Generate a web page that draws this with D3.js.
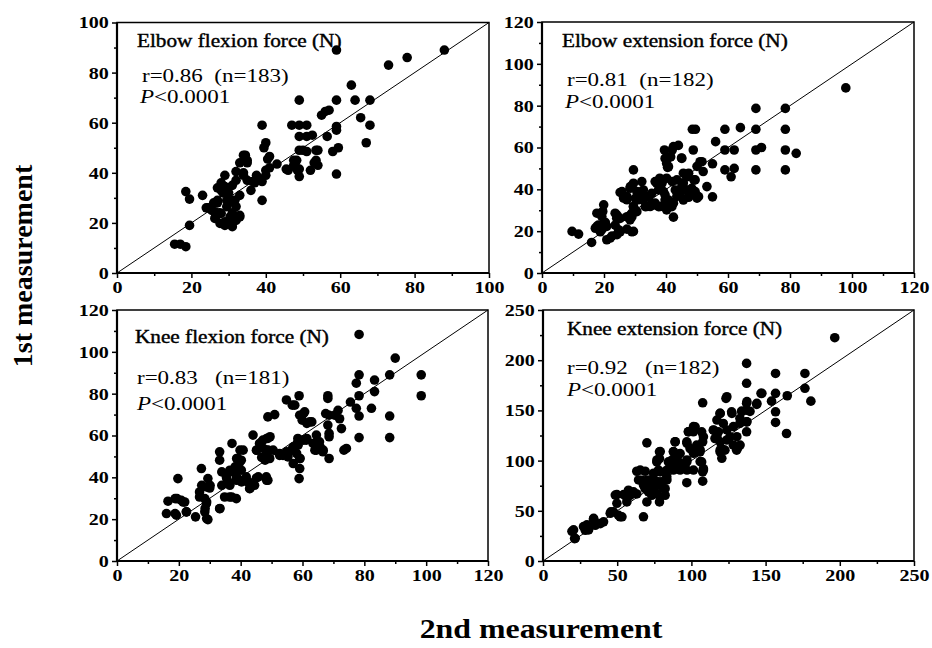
<!DOCTYPE html>
<html>
<head>
<meta charset="utf-8">
<script src="https://cdn.jsdelivr.net/npm/d3@7"></script>
<style>
body { margin: 0; background: #fff; }
text { font-family: "Liberation Serif", "Times New Roman", serif; fill: #000; }
.tick text { font-weight: bold; font-size: 17px; }
</style>
</head>
<body>
<svg id="chart" width="932" height="648"></svg>
<script>
// points are [2nd measurement, 1st measurement]
var elbowFlexion = [
  [88,89],[59,89],[73,83],[78,86],[63,75],[49,69],[59,69],[64,69],[68,69],[55,63],[56,64.5],[57,65],
  [65.5,62],[68,59],[67,52],[59,58.5],[59,57],[47,59],[49,59],[51,59],[49,54.5],[51,54.5],[52.5,55],
  [56.5,54.5],[39,59],[40,52],[39.5,50],[49,49],[51,48.5],[54,49],[59.5,50],[58,48.5],[41,46.5],
  [43,43.5],[47.5,45],[48,42.5],[46,41],[49,41.5],[49,38.5],[52,41],[53.5,45],[54,43],[59,39.5],
  [39,29],[34,47],[33,44],[35,44],[34,40],[32,37],[35,37],[29,39],[28,36],[37.5,39],[39,36.5],[40,39],
  [37,36],[36,33],[41,42],[23,31],[18.5,32.5],[19.5,29.5],[19.5,19],[15.5,11.5],[17,11.5],[18.5,10.5],
  [24,26],[25.5,25],[26.5,22.5],[27.5,24],[29.5,26.5],[31,24],[32,26.5],[33,23],[27,29],[28.5,32],
  [29.5,29],[31,29],[31,20],[29,19],[31,18.5],[32,21],[26,28],[27,34],[26.3,24.4],[28,23.8],[33,22.4],
  [30.4,22.4],[29,20.4],[27.7,19.8],[26.3,21.8],[24.5,26],[31.7,29],[30.4,28.4],[27,28],[30,32],[28,33],
  [33,31],[29,34.5],[31,35],[34,39],[32,40.5],[38.5,37.5],[36.5,36.5],[40.5,45.5],[40,41],[45.5,41.5],
  [48.5,41],[47.5,43],[48.3,45],[53,44],[50,49],[53.5,49],[35,45],[34.5,47]
];
var elbowExtension = [
  [98,88.5],[69,78.7],[78.5,78.7],[59,68.7],[64,69.5],[69,68.7],[78.5,68.7],[48.5,68.7],[49.5,68.7],
  [42.4,60.4],[44,61],[42,58.8],[39.5,58.8],[45,55],[48.8,58.8],[56,62.8],[59,58.8],[62,58.8],[69,58.8],
  [70.8,60],[78.5,58.8],[82,57.2],[69,49.3],[78.5,49.3],[59,49.3],[62,50],[61,46],[55,52.2],[51,53.2],
  [50,51],[52,48.5],[29.5,49.3],[39.7,54.8],[40.2,52.4],[40.5,50.5],[41.5,55.5],[38,45.3],[40.2,45.3],
  [42,43.7],[43.5,44.5],[45.6,47.7],[46.7,46],[49,44.5],[45.6,43],[53.2,41.3],[55,36.4],[49,38.5],
  [50,35.8],[46.2,40],[47.2,36.5],[44.5,38],[43,39.7],[43.5,36.6],[42.4,33.4],[42.4,26.7],[39.2,38.9],
  [39.7,35],[40.2,30.2],[38.1,31.8],[37,42.9],[35.4,38.1],[36.5,33.4],[34.9,31.8],[32.2,38.9],[32.7,35],
  [33.8,31.8],[29.5,42.9],[30.6,38.9],[31.1,35],[29.5,31.8],[28.4,40.5],[27.4,35],[29,28.6],[28.4,25.4],
  [25.2,38.5],[26.3,35.8],[19.9,32.6],[19.6,29.4],[17.7,28.6],[19.3,27],[23.6,28.6],[24.1,26.2],
  [20.4,24.2],[17.7,22.3],[19.3,20.7],[20.9,22.3],[24.7,20.7],[27.4,21],[29.5,19.9],[24.2,18.3],[22,16.7],
  [20.9,15.9],[16,14.6],[9.7,19.9],[11.8,18.6],[36.5,43.7],[38.7,42.9],[37.6,39.7],[39.7,37.3],
  [40.8,34.9],[41.9,31.7],[32.2,43.7],[32.7,39.7],[31.7,35.7],[34.4,36.5],[35.5,33.3],[37.6,31.7],
  [39.7,33.3],[28.5,41.3],[25.8,38.9],[27.4,36.5],[30.1,35.7],[29.5,31.7],[28.5,27.7],[27.4,26.9],
  [30.1,30.1],[24.2,27.7],[23.6,22.9],[25.2,26.1],[18.2,22.9],[20.4,23.8],[17.2,21.4],[18.8,19.7],
  [22.6,17.7],[25.2,19.7],[29,19.7],[29,26.9],[30.6,29.3],[33.3,31.7],[36,32.5],[47.3,47.7],[49.4,44.5],
  [48.3,40.5],[45.1,41.3],[50.5,36.5],[49.4,38.9],[47.3,36.2],[45.6,34.9],[51.6,53.2],[45.1,54.8],
  [41.4,55.6],[40.8,50.8]
];
var kneeFlexion = [
  [78.3,108.3],[90,97],[98.4,89],[98.4,79],[88.2,89],[83.3,86.5],[83.3,81],[78.3,89],[77.4,85],[78.3,79],
  [75.5,76],[77.4,73],[78.3,69.3],[82.3,73],[88.2,69.3],[88.2,59],[78.3,59],[68.2,79],[68.2,77.7],
  [67.5,70.5],[68.6,69.7],[71.5,72],[72,68],[70.4,69.7],[72.6,63.3],[74.2,53.8],[73.4,53],[68.2,65],
  [68.6,61],[68.6,59.4],[68.6,49],[64.5,60.2],[65.5,57],[63.4,56.2],[64.5,53],[66.6,52.2],[58.9,79],
  [56.7,74.5],[54.8,77],[59.1,69.7],[60.7,71.3],[59.9,67.3],[62.3,66.5],[58.5,58.6],[61.2,57.8],
  [58.5,57],[59.1,49],[57,46.6],[59.1,44.2],[58.9,39.4],[48.8,68.9],[51,70],[44,60.2],[47.2,57.8],
  [48.8,58.6],[46.1,56.2],[45.1,53],[48.3,53],[49.4,49],[50.5,53],[52.6,51.4],[54.8,52.2],[56.4,53],
  [53.7,50.5],[55.3,49.8],[52.6,50.5],[37.2,56.2],[40.8,53],[40.2,48.2],[39.1,49],[38.5,44.2],[40.2,43.4],
  [37.5,42.6],[35.4,40.2],[35.9,37.8],[33.2,52.2],[33.2,48.2],[27.3,44.2],[29.4,39.4],[28.9,35.4],
  [30,34.9],[38.6,38.6],[39.7,38.6],[41.8,40.2],[42.4,37.8],[42.9,34.6],[45.1,39.7],[44.5,36.2],
  [48.3,40.2],[48.8,38.6],[34.8,30.6],[36.4,30.6],[38.6,29.8],[33.2,25],[26.7,33],[26.7,30.6],[28.4,29.8],
  [28.9,27.4],[28.4,23.5],[29.4,19.8],[19.7,39.4],[19.4,29.8],[20.8,29],[21.9,28.2],[16.5,28.6],[16,22.7],
  [19.2,21.9],[22.4,23.5],[25.4,21.1],[57.5,74.5],[60.3,70.5],[61.4,65.8],[63,66.5],[48.4,58.6],
  [49.5,59.4],[46.8,57],[47.3,53.8],[48.9,53],[48.4,49.8],[46.8,49.5],[57,54.6],[58.6,55.4],[60.3,57.8],
  [61.4,58.6],[58.1,51.4],[59.2,49],[64.6,57],[65.7,54.6],[64,53],[66.7,53],[39.8,53],[38.7,49],
  [33.9,42.6],[35.5,39.4],[36.5,36.2],[38.7,40.2],[40.3,37.8],[43,34.7],[42.5,37.8],[37.1,30.6],
  [33.9,36.2],[36.5,43.4],[38.2,45],[39.8,47.4],[45.2,53],[47.9,48.2],[48.4,38.6],[45.7,40.2],[27.4,36.2],
  [30.1,36.2],[29,28.2],[28.5,25.1],[18.8,29.8],[21.4,28.2],[18.8,22.7],[22.5,23.5],[29,20.3],[33.3,25.1]
];
var kneeExtension = [
  [196.6,222.4],[176.5,186.8],[176.5,172],[180.5,159.2],[156.7,186.8],[156.7,167],[156.7,148.6],
  [156.7,138],[164.6,164.6],[164.1,127],[154,159.2],[146.9,167],[144,156],[137.2,196.8],[137.2,177],
  [137.2,157],[137.2,150.3],[137.2,138.6],[137.2,128.7],[139.5,149],[133.9,149.3],[132.7,142],[132.7,137],
  [123.3,162],[119.3,147],[121.5,137],[127.1,148.6],[107.6,157.6],[102.5,133.6],[101.3,128.7],
  [106.9,128.7],[108.1,123.7],[107.6,118.7],[114.8,130.3],[118.2,128.7],[115.9,122],[119.3,118.7],
  [120.4,112],[119.3,108.7],[122.6,110.4],[126,123.7],[128.3,115.4],[130.5,110.4],[131.6,113.7],
  [98,128.7],[96.9,118.7],[99.1,112],[102.5,110.4],[103.6,115.4],[105.8,108.7],[106.9,98.7],[108.1,92],
  [107.6,79.5],[107.6,88.8],[96.9,98.7],[94.6,93.8],[96.9,78],[91.3,98.7],[90.1,92],[86.8,100.4],
  [87.9,92.8],[84.5,98.7],[83.4,90.4],[89,118.7],[87.9,108.7],[92.4,107],[78.5,108.7],[78.5,102],
  [76.7,98.7],[78.9,88.8],[77.8,78.8],[78.5,58.8],[70,117.7],[63.2,89.4],[68.8,89.4],[66.6,80.5],
  [70,80.5],[72.2,75.5],[68.8,72],[74.4,72],[76.7,75.5],[82.3,72],[80,78.8],[83.4,83.8],[74.4,82],
  [71.1,68.8],[73.3,65.5],[76.7,67.2],[82.3,65.5],[78.9,63.8],[70,58.8],[67.7,44],[57.6,70.5],[58.7,65.5],
  [56.5,58.8],[54.3,66.2],[61,68.8],[63.2,66.8],[49.8,66.2],[50.9,45.5],[47.5,49],[45.7,49],[52,44],
  [40.8,39],[38.6,37.2],[34.1,41.6],[35.2,35.6],[29.6,34],[28.5,30.6],[19.5,29.6],[21.3,22.3],[79,109],
  [76.8,100.6],[77.8,90.6],[74.5,87.4],[65.5,90.6],[64.4,80.7],[67.7,75.7],[72.2,80.7],[79,77.4],
  [83.5,80.7],[81.2,72.4],[89.1,118.8],[97,117.2],[101.4,133.8],[98,128.8],[87.9,109],[90.2,104],
  [92.4,97.3],[97,100.6],[101.4,107.3],[105.9,110.6],[105.9,99],[108.1,90.6],[101.4,90.6],[97,90.6],
  [87.9,90.6],[92.4,90.6],[117.2,140.4],[119.4,147],[127.3,147],[134,148.7],[137.4,158.7],[123.9,130.5],
  [128.3,133.8],[130.6,123.8],[132.8,115.5],[123.9,120.5],[119.4,110.6],[120.5,102.3],[117.2,123.8],
  [114.9,130.5],[144.1,157],[137.4,138.7],[147.5,167],[123.9,163.6],[48.7,65.7],[49.8,57.5],[56.6,62.4],
  [45.3,47.5],[53.2,44],[34.1,42.5],[29.6,36],[30.7,31],[20.6,31],[21.7,22.6],[27.3,34.2]
];

var panelData = [elbowFlexion, elbowExtension, kneeFlexion, kneeExtension];
var axisMax = [100, 120, 120, 250];
var majorStep = [20, 20, 20, 50];
var panelTitles = ["Elbow flexion force (N)", "Elbow extension force (N)", "Knee flexion force (N)", "Knee extension force (N)"];
var rLabels = ["r=0.86  (n=183)", "r=0.81  (n=182)", "r=0.83   (n=181)", "r=0.92   (n=182)"];
var pLabel = "<0.0001";
var yTitle = "1st measurement";
var xTitle = "2nd measurement";

// plot boxes and where the texts sit inside them
var boxes = [
  {l: 117, r: 489, t: 22.5, b: 273},
  {l: 542, r: 914, t: 22, b: 273},
  {l: 117, r: 488, t: 310, b: 561},
  {l: 543, r: 914, t: 310, b: 561}
];
var textPos = [
  {title: [20, 24.5], r: [25, 59], p: [23, 80]},
  {title: [20, 25], r: [25, 64], p: [23, 85.5]},
  {title: [18, 33], r: [20, 74], p: [20, 100]},
  {title: [24, 25], r: [24, 64], p: [24, 85.5]}
];

var sx = 1.18; // the scanned figure is stretched sideways, text too

var svg = d3.select("#chart");

function stretched(parent, x, y) {
  return parent.append("text")
    .attr("transform", "translate(" + x + "," + y + ") scale(" + sx + ",1)");
}

function drawPanel(i) {
  var box = boxes[i], max = axisMax[i], step = majorStep[i];
  var x = d3.scaleLinear().domain([0, max]).range([box.l, box.r]);
  var y = d3.scaleLinear().domain([0, max]).range([box.b, box.t]);
  var g = svg.append("g");

  var majors = d3.range(0, max + 1, step);
  var minors = d3.range(step / 2, max, step);

  // minor ticks
  g.append("g").attr("transform", "translate(0," + box.b + ")")
    .call(d3.axisBottom(x).tickValues(minors).tickFormat("").tickSize(3))
    .call(function (a) { a.select(".domain").remove(); });
  g.append("g").attr("transform", "translate(" + box.l + ",0)")
    .call(d3.axisLeft(y).tickValues(minors).tickFormat("").tickSize(3))
    .call(function (a) { a.select(".domain").remove(); });

  // major ticks and labels
  var xa = g.append("g").attr("transform", "translate(0," + box.b + ")")
    .call(d3.axisBottom(x).tickValues(majors).tickSize(5).tickPadding(3));
  xa.select(".domain").remove();
  xa.selectAll(".tick text").attr("transform", "scale(" + sx + ",1)");

  var ya = g.append("g").attr("transform", "translate(" + box.l + ",0)")
    .call(d3.axisLeft(y).tickValues(majors).tickSize(5).tickPadding(2));
  ya.select(".domain").remove();
  ya.selectAll(".tick text").attr("transform", "scale(" + sx + ",1)");
  g.selectAll(".tick line").attr("stroke", "#000").attr("stroke-width", 1.5);

  // frame
  g.append("rect")
    .attr("x", box.l).attr("y", box.t)
    .attr("width", box.r - box.l).attr("height", box.b - box.t)
    .attr("fill", "none").attr("stroke", "#000").attr("stroke-width", 1.5);
  g.append("path")
    .attr("d", "M" + box.l + "," + box.t + "V" + box.b + "H" + box.r)
    .attr("fill", "none").attr("stroke", "#000").attr("stroke-width", 2.2);

  // line of identity
  g.append("line")
    .attr("x1", x(0)).attr("y1", y(0))
    .attr("x2", x(max)).attr("y2", y(max))
    .attr("stroke", "#000").attr("stroke-width", 1);

  g.selectAll("circle.dot")
    .data(panelData[i])
    .enter()
    .append("circle")
    .attr("class", "dot")
    .attr("cx", function (d) { return x(d[0]); })
    .attr("cy", function (d) { return y(d[1]); })
    .attr("r", 4.8)
    .attr("fill", "#000");

  var tp = textPos[i];
  stretched(g, box.l + tp.title[0], box.t + tp.title[1])
    .style("font-size", "18px")
    .attr("stroke", "#000").attr("stroke-width", 0.4)
    .text(panelTitles[i]);
  stretched(g, box.l + tp.r[0], box.t + tp.r[1])
    .style("font-size", "19.5px")
    .style("white-space", "pre")
    .text(rLabels[i]);
  var pt = stretched(g, box.l + tp.p[0], box.t + tp.p[1]).style("font-size", "19.5px");
  pt.append("tspan").style("font-style", "italic").text("P");
  pt.append("tspan").text(pLabel);
}

for (var i = 0; i < 4; i++) drawPanel(i);

// shared axis titles
svg.append("text")
  .attr("transform", "translate(32,266) rotate(-90)")
  .attr("text-anchor", "middle")
  .style("font-weight", "bold").style("font-size", "28px")
  .text(yTitle);
svg.append("text")
  .attr("transform", "translate(541,638) scale(" + sx + ",1)")
  .attr("text-anchor", "middle")
  .style("font-weight", "bold").style("font-size", "27px")
  .text(xTitle);
</script>
</body>
</html>
